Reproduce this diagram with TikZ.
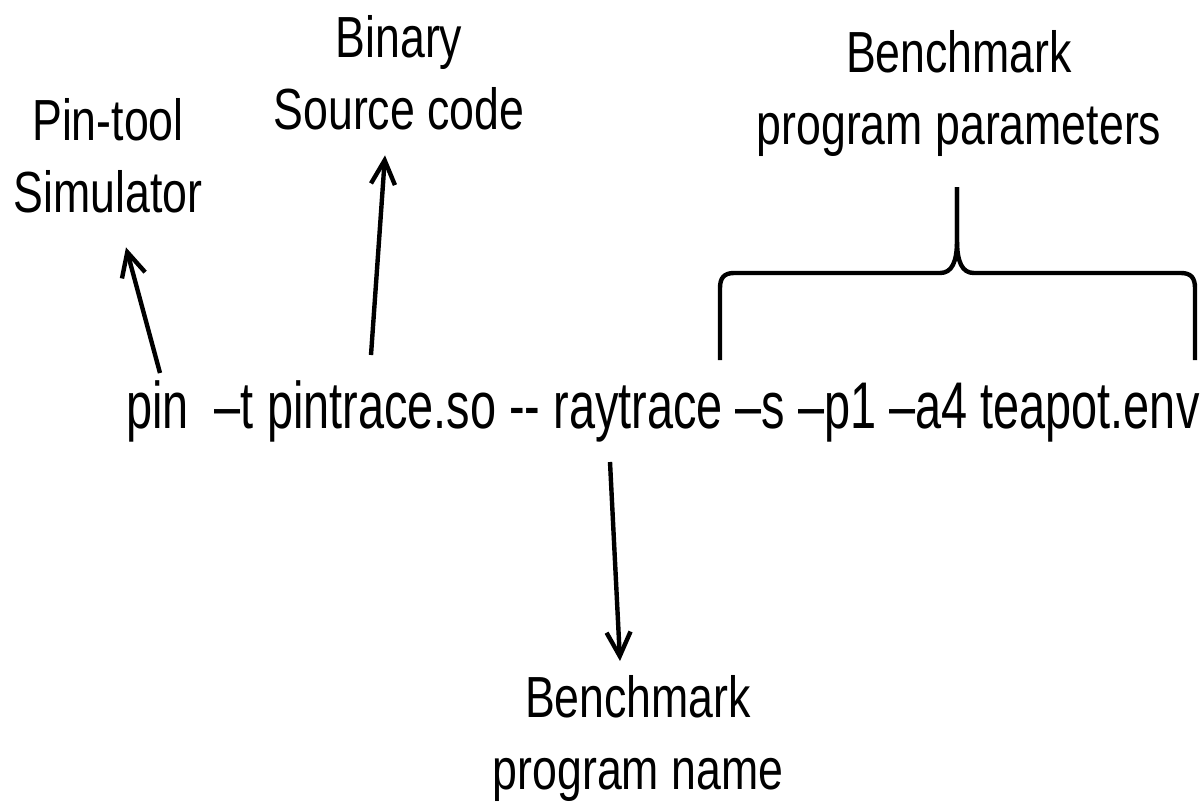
\documentclass[tikz,border=0pt]{standalone}
\usepackage{fontspec}
\setmainfont{Liberation Sans}
\newfontfamily\labfont[FakeStretch=0.77]{Liberation Sans}
\newfontfamily\cmdfont[FakeStretch=0.71]{Liberation Sans}
\usetikzlibrary{positioning,arrows.meta,calc}
\tikzset{
  lab/.style={font=\labfont\fontsize{29}{36}\selectfont, align=center, inner sep=0pt},
  cmd/.style={font=\cmdfont\fontsize{33}{36}\selectfont, inner sep=0pt},
  ptr/.style={-{Straight Barb[length=12pt, width=12pt]}, line width=2.2pt},
  brc/.style={line width=2.2pt, line join=round, line cap=butt},
}
\begin{document}
\begin{tikzpicture}[x=0.5pt, y=-0.5pt]
  \useasboundingbox (0,0) rectangle (1203,803);
  % the command line
  \node[cmd, anchor=base west] (line) at (126,428) {pin\ \ –t pintrace.so -{}- raytrace –s –p1 –a4 teapot.env};
  % labels
  \node[lab, anchor=north] (simu)   at (108,98) {Pin-tool\\Simulator};
  \node[lab, anchor=north] (src)    at (399,15)  {Binary\\Source code};
  \node[lab, anchor=north] (params) at (959,30)  {Benchmark\\program parameters};
  \node[lab, anchor=north] (bname)  at (638,675) {Benchmark\\program name};
  % arrow tails on the command line
  \coordinate (pinpt) at (160,373);
  \coordinate (sopt)  at (371,355);
  \coordinate (raypt) at (610,462);
  \draw[ptr] (pinpt) -- ($(simu.south)+(18,34)$);
  \draw[ptr] (sopt) -- ($(src.south)+(-14,25)$);
  \draw[ptr] (raypt) -- ($(bname.north)+(-18,-14)$);
  % brace over the parameters
  \coordinate (brL) at (720,360);
  \coordinate (brR) at (1195,360);
  \coordinate (brT) at (957,187);
  \draw[brc] (brL) -- (720,288) .. controls (720,278) and (724,273) .. (734,273)
    -- (940,273) .. controls (952,273) and (957,262) .. (957,240) -- (brT);
  \draw[brc] (brR) -- (1195,288) .. controls (1195,278) and (1191,273) .. (1181,273)
    -- (974,273) .. controls (962,273) and (957,262) .. (957,240) -- (brT);
\end{tikzpicture}
\end{document}
